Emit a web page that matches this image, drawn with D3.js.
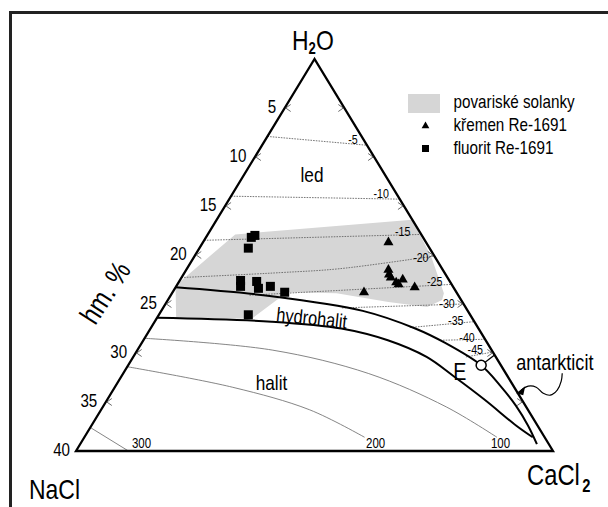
<!DOCTYPE html>
<html><head><meta charset="utf-8">
<script src="https://cdn.jsdelivr.net/npm/d3@7"></script>
<style>
body{margin:0;background:#fff}
svg{display:block}
text{font-family:"Liberation Sans",Arial,sans-serif;fill:#000}
</style></head>
<body><svg id="c" width="608" height="507"></svg>
<script>
// ---------- data (wt. %, [NaCl, CaCl2]) ----------
const edgeTicks = [5, 10, 15, 20, 25, 30, 35];
const cornerTick = 40;
const fluoritNaCl  = [14.4, 14.0, 15.2, 17.5, 17.8, 16.2, 16.4, 15.3, 14.4, 18.6];
const fluoritCaCl2 = [ 3.8,  4.0,  4.1,  5.1,  5.4,  6.5,  7.0,  7.9,  9.4,  7.5];
const kremenNaCl   = [3.1, 4.5, 4.7, 4.7, 4.5, 4.4, 3.8, 7.7, 3.2];
const kremenCaCl2  = [15.5, 16.9, 17.2, 17.5, 18.2, 18.5, 18.6, 16.0, 20.0];
const solankyNaCl  = [22.9, 15.6, 0.0, 0.3, 1.1, 1.6, 3.2, 6.2, 10.1, 14.2, 18.5, 24.8, 23.3];
const solankyCaCl2 = [ 0.0,  2.3, 16.4, 19.9, 22.8, 23.0, 22.1, 18.6, 13.8, 9.6, 8.0, 1.6, 0.0];
const iceIsoLabels = ["-5", "-10", "-15", "-20", "-25", "-30", "-35", "-40", "-45"];
const iceIso = [
  [[7.9, 0], [0, 8.8]],
  [[14.0, 0], [0, 14.3]],
  [[18.5, 0], [0, 17.9]],
  [[22.3, 0], [13.8, 8.0], [8.6, 12.8], [0, 20.1]],
  [[17.5, 6.6], [0, 23.0]],
  [[10.4, 15.0], [0, 25.0]],
  [[5.7, 21.7], [0, 26.8]],
  [[3.8, 24.9], [0, 28.6]],
  [[2.5, 27.9], [0, 29.9]]
];
const haliteIsoLabels = ["300", "200", "100"];
const haliteIso = [
  [[37.6, 0], [35.6, 4.4]],
  [[31.4, 0], [23.6, 9.9], [18.3, 17.5], [15.1, 23.5]],
  [[28.5, 0], [18.4, 11.3], [11.5, 20.6], [6.7, 28.8], [4.0, 34.6]]
];
const iceHydrohalite = [[23.3, 0], [15.7, 8.5], [8.8, 16.9], [5.3, 22.2], [3.5, 25.5], [1.65, 29.6],
                        [1.1, 32.2], [0.8, 34.6], [0.8, 36.6], [1.0, 38.3]];
const hydrohaliteHalite = [[26.4, 0], [17.0, 9.8], [11.5, 16.0], [8.2, 20.5], [5.8, 24.6], [4.5, 27.9],
                           [3.1, 31.7], [1.8, 35.6], [1.0, 37.6]];
const iceAntarcticite = [[1.65, 29.6], [0, 30.2]];
const eutectic = [1.65, 29.6];
const antarcticitePoint = [0, 34.0];
const legendLabels = ["povariské solanky", "křemen Re-1691", "fluorit Re-1691"];

// ---------- scales ----------
const svg = d3.select("#c");
const x = d3.scaleLinear().domain([-40, 40]).range([76, 553]);   // CaCl2 - NaCl
const y = d3.scaleLinear().domain([0, 40]).range([59, 451]);     // NaCl + CaCl2
const P = d => [x(d[1] - d[0]), y(d[0] + d[1])];
const straight = d3.line().x(d => P(d)[0]).y(d => P(d)[1]);
const smooth = d3.line().x(d => P(d)[0]).y(d => P(d)[1]).curve(d3.curveCatmullRom.alpha(0.5));

// condensed text helper
const NARROW = 0.82;
function label(px, py, str, size, anchor = "start", rot = 0) {
  return svg.append("text")
    .attr("transform", `translate(${px},${py}) rotate(${rot}) scale(${NARROW},1)`)
    .attr("text-anchor", anchor).attr("font-size", size).text(str);
}

// frame
svg.append("rect").attr("x", 10.5).attr("y", 12.5).attr("width", 620).attr("height", 520)
  .attr("fill", "none").attr("stroke", "#222").attr("stroke-width", 3);

// gray field
const solanky = solankyNaCl.map((v, i) => [v, solankyCaCl2[i]]);
svg.append("path").attr("d", straight(solanky) + "Z").attr("fill", "#d6d6d6").attr("stroke", "none");

// halite isotherms
svg.selectAll(".hiso").data(haliteIso).join("path")
  .attr("d", smooth).attr("fill", "none").attr("stroke", "#777").attr("stroke-width", 0.9);

// ice isotherms
svg.selectAll(".iiso").data(iceIso).join("path")
  .attr("d", smooth).attr("fill", "none").attr("stroke", "#666").attr("stroke-width", 0.9)
  .attr("stroke-dasharray", "1.6,1.1");

// cotectic lines
[iceHydrohalite, hydrohaliteHalite].forEach(c => {
  svg.append("path").attr("d", smooth(c)).attr("fill", "none").attr("stroke", "#000").attr("stroke-width", 2);
});
svg.append("path").attr("d", straight(iceAntarcticite)).attr("fill", "none").attr("stroke", "#000").attr("stroke-width", 1.3);

// triangle
const corners = [[0, 0], [40, 0], [0, 40]];
svg.append("path").attr("d", straight(corners) + "Z").attr("fill", "none")
  .attr("stroke", "#000").attr("stroke-width", 2.3).attr("stroke-linejoin", "miter");

// ticks
edgeTicks.forEach(v => {
  const [lx, ly] = P([v, 0]);
  svg.append("path").attr("d", `M${lx + 6},${ly - 3.5}L${lx + 1},${ly}L${lx + 6},${ly + 3.5}`)
    .attr("fill", "none").attr("stroke", "#444").attr("stroke-width", 0.8);
  const [rx, ry] = P([0, v]);
  svg.append("path").attr("d", `M${rx - 6},${ry - 3.5}L${rx - 1},${ry}L${rx - 6},${ry + 3.5}`)
    .attr("fill", "none").attr("stroke", "#444").attr("stroke-width", 0.8);
  label(lx - 8.5, ly + 4.6, v, 18.5, "end");
});
{
  const [cx, cy] = P([cornerTick, 0]);
  label(cx - 6, cy + 4.5, cornerTick, 18.5, "end");
}

// ice isotherm labels (offsets from right end)
const isoOff = [[-14, -5.5], [-18.5, -6], [-18.5, -3], [-13.5, 1.3], [-17, -3], [-16.5, -1], [-18.5, -1.5], [-18, -2], [-17.5, -2.5]];
iceIso.forEach((c, i) => {
  const [ex, ey] = P(c[c.length - 1]);
  label(ex + isoOff[i][0], ey + isoOff[i][1] + 4.5, iceIsoLabels[i], 13, "middle");
});
// halite isotherm labels
const hOff = [[13, -3], [11, 10.5], [3.5, 10.5]];
haliteIso.forEach((c, i) => {
  const [ex, ey] = P(c[c.length - 1]);
  label(ex + hOff[i][0], ey + hOff[i][1], haliteIsoLabels[i], 14, "middle");
});

// markers
const sq = 9;
svg.selectAll(".fl").data(fluoritNaCl.map((v, i) => [v, fluoritCaCl2[i]])).join("rect")
  .attr("x", d => P(d)[0] - sq / 2).attr("y", d => P(d)[1] - sq / 2)
  .attr("width", sq).attr("height", sq).attr("fill", "#000");
const tri = d3.symbol().type(d3.symbolTriangle).size(44);
svg.selectAll(".kr").data(kremenNaCl.map((v, i) => [v, kremenCaCl2[i]])).join("path")
  .attr("d", tri).attr("transform", d => `translate(${P(d)[0]},${P(d)[1] + 1})`).attr("fill", "#000");

// eutectic circle
{
  const [ex, ey] = P(eutectic);
  svg.append("circle").attr("cx", ex).attr("cy", ey).attr("r", 5)
    .attr("fill", "#fff").attr("stroke", "#000").attr("stroke-width", 1.5);
  label(ex - 28, ey + 15, "E", 24);
}

// antarcticite annotation
{
  const [ax, ay] = P(antarcticitePoint);
  const wave = [[ax + 4, ay - 2], [ax + 11, ay - 6], [ax + 19, ay - 5], [ax + 26, ay + 1], [ax + 33, ay + 3],
                [ax + 40, ay - 2], [ax + 44, ay - 11], [ax + 45, ay - 19]];
  svg.append("path").attr("d", d3.line().curve(d3.curveCatmullRom)(wave))
    .attr("fill", "none").attr("stroke", "#000").attr("stroke-width", 1.2);
  svg.append("path").attr("d", `M${ax - 1},${ay + 1}L${ax + 8},${ay - 6}L${ax + 6},${ay + 3}Z`).attr("fill", "#000");
  label(ax - 1, ay - 22, "antarkticit", 22);
}

// field labels
label(312, 181.5, "led", 21, "middle");
label(271.5, 390, "halit", 21, "middle");
label(311, 325, "hydrohalit", 20, "middle", 6);
label(113.5, 298, "hm. %", 29, "middle", -57);

// corner labels
{
  const t = svg.append("text").attr("transform", `translate(292,49.5) scale(${NARROW},1)`).attr("font-size", 28);
  t.append("tspan").text("H");
  t.append("tspan").attr("font-size", 16).attr("font-weight", "bold").attr("dy", 4).text("2");
  t.append("tspan").attr("dy", -4).text("O");
  label(29, 499, "NaCl", 28);
  const c = svg.append("text").attr("transform", `translate(527,485) scale(${NARROW},1)`).attr("font-size", 29);
  c.append("tspan").text("CaCl");
  c.append("tspan").attr("font-size", 18).attr("font-weight", "bold").attr("dx", 3).attr("dy", 6.5).text("2");
}

// legend
svg.append("rect").attr("x", 408).attr("y", 94).attr("width", 32).attr("height", 19).attr("fill", "#d6d6d6");
svg.append("path").attr("d", d3.symbol().type(d3.symbolTriangle).size(26)).attr("transform", "translate(425.5,126)").attr("fill", "#000");
svg.append("rect").attr("x", 422).attr("y", 145).attr("width", 7).attr("height", 7).attr("fill", "#000");
const legY = [108, 131, 153.5];
legendLabels.forEach((l, i) => label(453.5, legY[i], l, 18.6));
</script></body></html>
